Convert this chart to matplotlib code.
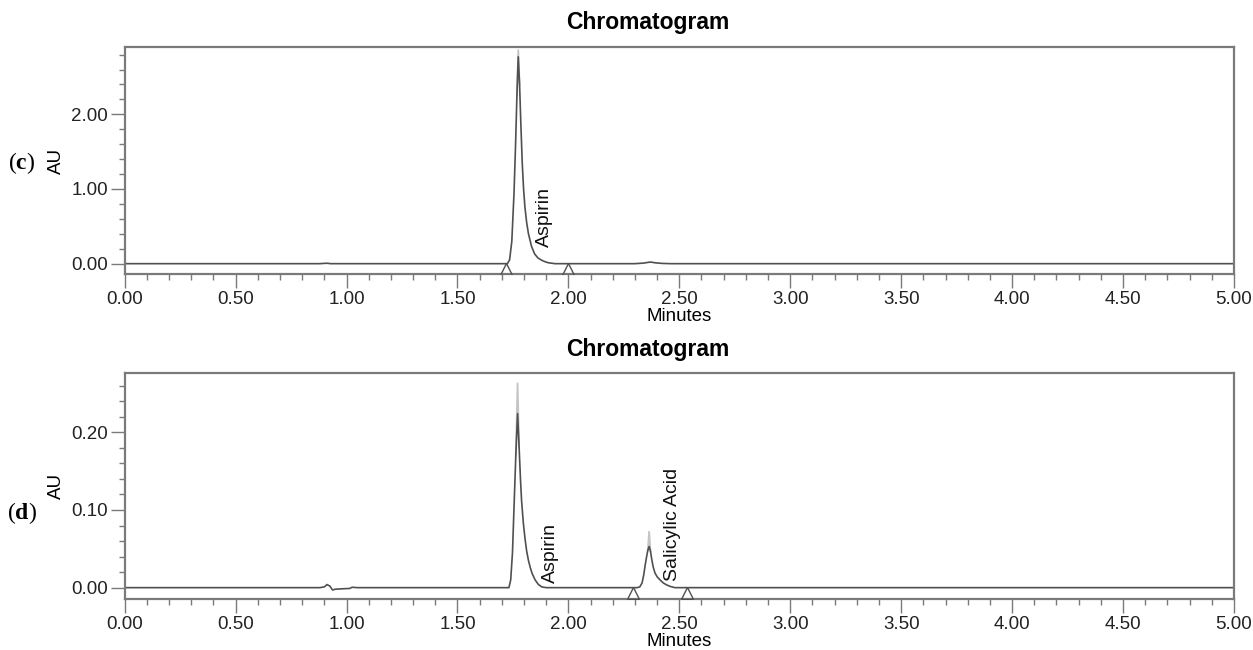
import matplotlib
matplotlib.use("Agg")
import matplotlib.pyplot as plt
from matplotlib.ticker import MultipleLocator, FormatStrFormatter

plt.rcParams['font.family'] = ['Liberation Sans', 'DejaVu Sans']
plt.rcParams['mathtext.fontset'] = 'custom'
plt.rcParams['mathtext.rm'] = 'Liberation Serif'
plt.rcParams['mathtext.bf'] = 'Liberation Serif:bold'

# trace (c): minutes / AU
t_c = [0.00, 0.88, 0.91, 0.93, 0.96, 1.70, 1.725, 1.735, 1.745, 1.755, 1.762,
       1.768, 1.774, 1.780, 1.786, 1.792, 1.798, 1.804, 1.812, 1.820, 1.834,
       1.848, 1.863, 1.880, 1.894, 1.910, 1.940, 2.30, 2.34, 2.365, 2.375,
       2.39, 2.42, 2.46, 5.00]
au_c = [0, 0, 0.006, 0, 0, 0, 0, 0.05, 0.30, 0.95, 1.60,
        2.25, 2.77, 2.40, 1.85, 1.35, 1.00, 0.76, 0.55, 0.40, 0.23,
        0.13, 0.076, 0.045, 0.027, 0.012, 0, 0, 0.008, 0.02, 0.02,
        0.012, 0.004, 0, 0]
# second (lighter) channel near apex
t_c_hi = [1.768, 1.774, 1.780]
au_c_hi = [2.25, 2.86, 2.40]
marks_c = [1.718, 1.999]

# trace (d)
t_d = [0.00, 0.88, 0.90, 0.912, 0.925, 0.937, 0.95, 0.98, 1.015, 1.025, 1.05,
       1.70, 1.732, 1.740, 1.748, 1.756, 1.763, 1.771, 1.778, 1.784, 1.789,
       1.797, 1.805, 1.812, 1.820, 1.828, 1.837, 1.850, 1.865, 1.880, 1.900,
       2.31, 2.322, 2.332, 2.340, 2.345, 2.352, 2.358, 2.364, 2.370, 2.376,
       2.382, 2.390, 2.400, 2.413, 2.428, 2.443, 2.460, 2.480, 5.00]
au_d = [0, 0, 0.001, 0.004, 0.002, -0.003, -0.002, -0.0015, -0.001, 0.0005, 0,
        0, 0, 0.01, 0.045, 0.112, 0.17, 0.224, 0.180, 0.140, 0.112,
        0.083, 0.062, 0.047, 0.035, 0.026, 0.018, 0.010, 0.004, 0.001, 0,
        0, 0.001, 0.006, 0.017, 0.027, 0.039, 0.048, 0.053, 0.047, 0.036,
        0.027, 0.019, 0.014, 0.010, 0.006, 0.0035, 0.0015, 0, 0]
t_d_hi = [1.763, 1.771, 1.778, 2.358, 2.364, 2.370]
au_d_hi = [0.17, 0.263, 0.180, 0.048, 0.072, 0.047]
marks_d = [2.292, 2.533]

peaks_c = [("Aspirin", 1.894, 0.22)]
peaks_d = [("Aspirin", 1.917, 0.006), ("Salicylic Acid", 2.47, 0.009)]

panels = [
    ("c", t_c, au_c, t_c_hi, au_c_hi, marks_c, peaks_c, (-0.138, 2.90), 1.0, 0.2),
    ("d", t_d, au_d, t_d_hi, au_d_hi, marks_d, peaks_d, (-0.015, 0.276), 0.1, 0.02),
]

dark = '#505050'
spine = '#7a7a7a'

fig = plt.figure(figsize=(12.53, 6.5), dpi=100)
boxes = [[0.0995, 0.5785, 0.8853, 0.349], [0.0995, 0.078, 0.8853, 0.3477]]
title_y = [0.966, 0.462]
tag_y = [0.49, 0.382]

for box, ty, gy, (tag, t, au, th, ah, marks, peaks, ylim, ymaj, ymin) in zip(boxes, title_y, tag_y, panels):
    ax = fig.add_axes(box)
    i = 0
    # light channel, split into its segments of three points
    while i < len(th):
        ax.plot(th[i:i + 3], ah[i:i + 3], color='#c4c4c4', lw=1.3, zorder=1)
        i += 3
    ax.plot(t, au, color=dark, lw=1.2, zorder=2)
    ax.plot(marks, [ylim[0] / 2] * len(marks), ls='none', marker='^',
            ms=8.5, mfc='none', mec=dark, mew=1.0, zorder=3)
    for name, x, y in peaks:
        ax.text(x, y, name, rotation=90, ha='center', va='bottom',
                fontsize=14, color='#111111')
    ax.set_xlim(0, 5)
    ax.set_ylim(*ylim)
    ax.xaxis.set_major_locator(MultipleLocator(0.5))
    ax.xaxis.set_minor_locator(MultipleLocator(0.1))
    ax.yaxis.set_major_locator(MultipleLocator(ymaj))
    ax.yaxis.set_minor_locator(MultipleLocator(ymin))
    ax.xaxis.set_major_formatter(FormatStrFormatter('%.2f'))
    ax.yaxis.set_major_formatter(FormatStrFormatter('%.2f'))
    ax.tick_params(which='major', length=10, width=1.0, color=spine,
                   labelsize=13.5, labelcolor='#222222', pad=2)
    ax.tick_params(which='minor', length=4.5, width=1.0, color=spine)
    for s in ax.spines.values():
        s.set_color(spine)
        s.set_linewidth(1.6)
    fig.text(0.517, ty, 'Chromatogram', fontsize=16.5, fontweight='bold',
             ha='center', va='center')
    ax.set_xlabel('Minutes', fontsize=13.5, labelpad=0)
    ax.set_ylabel('AU', fontsize=13.5)
    ax.yaxis.set_label_coords(-0.054, 0.5)
    ax.text(-0.0926, gy, '(' + r'$\mathbf{' + tag + '}$' + ')', transform=ax.transAxes,
            fontsize=17, family='Liberation Serif', ha='center', va='center')

fig.savefig('out.png', dpi=100)
